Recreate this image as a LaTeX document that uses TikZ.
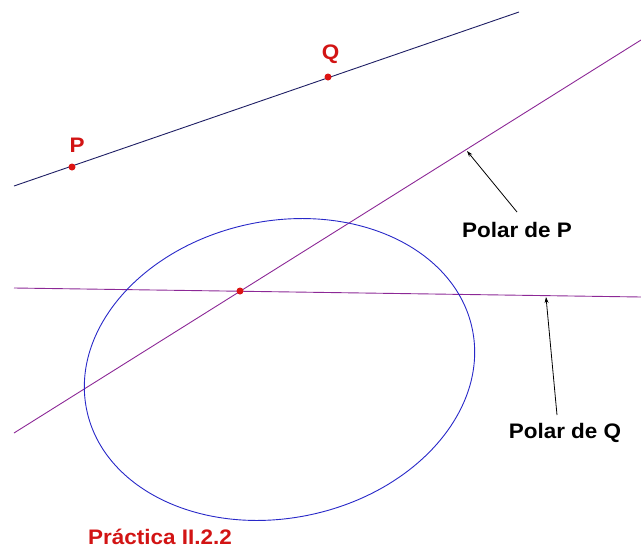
\documentclass[tikz,border=0pt]{standalone}
\usepackage{fontspec}
\setmainfont{Liberation Sans}
\usetikzlibrary{arrows.meta,shapes.geometric}
\definecolor{navy}{RGB}{30,30,100}
\definecolor{polarc}{RGB}{140,40,150}
\definecolor{circc}{RGB}{40,40,200}
\definecolor{ptred}{RGB}{220,20,20}
\definecolor{lblred}{RGB}{210,20,20}
\tikzset{
  pt/.style={circle,fill=ptred,inner sep=0pt,minimum size=7pt},
  lbl/.style={font=\fontsize{21}{23}\selectfont\bfseries,inner sep=0pt,anchor=base},
  ptlbl/.style={lbl,text=lblred},
  callout/.style={black,line width=0.8pt,-{Stealth[length=6pt,width=4pt]}},
  polar/.style={polarc,line width=0.9pt},
}
\begin{document}
\begin{tikzpicture}[x=1pt,y=-1pt]
\useasboundingbox (0,0) rectangle (641,549);
% line PQ
\coordinate (a1) at (14,186);
\coordinate (a2) at (519,12);
\draw[navy,line width=0.9pt] (a1) -- (a2);
% polar of P
\coordinate (b1) at (14,433);
\coordinate (b2) at (641,40);
\draw[polar] (b1) -- (b2);
% polar of Q
\coordinate (c1) at (14,288);
\coordinate (c2) at (641,297);
\draw[polar] (c1) -- (c2);
% conic
\node[draw=circc,line width=0.9pt,ellipse,inner sep=0pt,rotate=12,minimum width=394pt,minimum height=297pt] (circ) at (279.5,369.5) {};
% points
\node[pt] (P) at (72,167) {};
\node[pt] (Q) at (328,77) {};
\node[pt] (X) at (240,291) {};
\node[ptlbl] (Plbl) at (77,152) {\scalebox{1.07}[1]{P}};
\node[ptlbl] (Qlbl) at (330.5,59) {\scalebox{1.07}[1]{Q}};
% callouts
\node[lbl] (lP) at (517,237) {\scalebox{1.07}[1]{Polar de P}};
\node[lbl] (lQ) at (565,438) {\scalebox{1.07}[1]{Polar de Q}};
\coordinate (tP) at (467,151);
\coordinate (tQ) at (546,297);
\coordinate (sP) at (517,212);
\coordinate (sQ) at (557,415);
\draw[callout] (sP) -- (tP);
\draw[callout] (sQ) -- (tQ);
\node[ptlbl] (title) at (160,544) {\scalebox{1.07}[1]{Práctica II.2.2}};
\end{tikzpicture}
\end{document}
